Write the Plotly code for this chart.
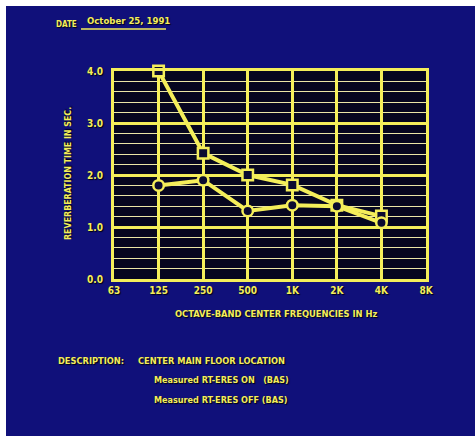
import plotly.graph_objects as go

categories = ["63", "125", "250", "500", "1K", "2K", "4K", "8K"]
freqs = ["125", "250", "500", "1K", "2K", "4K"]
rt_on = [4.0, 2.42, 2.0, 1.81, 1.42, 1.21]
rt_off = [1.8, 1.9, 1.31, 1.42, 1.4, 1.08]
y_ticks = [0.0, 1.0, 2.0, 3.0, 4.0]
y_ticklabels = ["0.0", "1.0", "2.0", "3.0", "4.0"]

YEL = "#f4ee5a"
NAVY = "#10107a"
FONT = "Liberation Sans Narrow, DejaVu Sans Condensed, Liberation Sans, Arial"
SHADOW = "1px 1px 1px #000010"

W, H = 475, 436
L, T = 114, 71
R, B = W - 426, H - 279
pw, ph = W - L - R, H - T - B


def px_x(p):
    return (p - L) / pw


def px_y(p):
    return (H - B - p) / ph


fig = go.Figure()
fig.add_trace(go.Scatter(
    x=freqs, y=rt_on, mode="lines+markers", name="Measured RT-ERES ON (BAS)",
    line=dict(color=YEL, width=4),
    marker=dict(symbol="square", size=10.5, color="#0a0a30", line=dict(color=YEL, width=2.5)),
    cliponaxis=False,
))
fig.add_trace(go.Scatter(
    x=freqs, y=rt_off, mode="lines+markers", name="Measured RT-ERES OFF (BAS)",
    line=dict(color=YEL, width=4),
    marker=dict(symbol="circle", size=10.5, color="#0a0a30", line=dict(color=YEL, width=2.5)),
    cliponaxis=False,
))

shapes = [
    dict(type="rect", xref="paper", yref="paper", x0=px_x(-2), x1=px_x(W + 2), y0=px_y(6), y1=px_y(-2),
         fillcolor="white", line=dict(width=0), layer="below"),
    dict(type="rect", xref="paper", yref="paper", x0=px_x(-2), x1=px_x(6), y0=px_y(H + 2), y1=px_y(-2),
         fillcolor="white", line=dict(width=0), layer="below"),
    dict(type="line", xref="paper", yref="paper", x0=px_x(81), x1=px_x(166), y0=px_y(29), y1=px_y(29),
         line=dict(color=YEL, width=1.5)),
]


def txt(x, y, s, size=9, anchor="left"):
    return dict(text=s, xref="paper", yref="paper", x=px_x(x), y=px_y(y), xanchor=anchor, yanchor="middle",
                showarrow=False, font=dict(family=FONT, size=size, color=YEL, weight="bold", shadow=SHADOW))


annotations = [
    txt(54, 25, "DATE", 8),
    txt(85, 21, "October 25, 1991", 9.5),
    txt(276, 313, "OCTAVE-BAND CENTER FREQUENCIES IN Hz", 9.3, "center"),
    txt(56, 360, "DESCRIPTION:", 9.2),
    txt(136, 360, "CENTER MAIN FLOOR LOCATION", 9.2),
    txt(152, 380, "Measured RT-ERES ON \u00a0\u00a0(BAS)", 9),
    txt(152, 400, "Measured RT-ERES OFF (BAS)", 9),
    dict(text="REVERBERATION TIME IN SEC.", xref="paper", yref="paper", x=px_x(68), y=px_y(174),
         xanchor="center", yanchor="middle", textangle=-90, showarrow=False,
         font=dict(family=FONT, size=8.8, color=YEL, weight="bold", shadow=SHADOW)),
]

# legend marker glyphs
fig.add_trace(go.Scatter(
    x=[px_x(143)], y=[px_y(380)], xaxis="x2", yaxis="y2", mode="markers", showlegend=False,
    marker=dict(symbol="square", size=8, color="#0a0a30", line=dict(color=YEL, width=2.5)),
    cliponaxis=False, hoverinfo="skip"))
fig.add_trace(go.Scatter(
    x=[px_x(143)], y=[px_y(400)], xaxis="x2", yaxis="y2", mode="markers", showlegend=False,
    marker=dict(symbol="circle", size=9, color="#0a0a30", line=dict(color=YEL, width=2.5)),
    cliponaxis=False, hoverinfo="skip"))

fig.update_layout(
    width=W, height=H,
    margin=dict(l=L, r=R, t=T, b=B),
    paper_bgcolor=NAVY,
    plot_bgcolor="#06061f",
    showlegend=False,
    shapes=shapes,
    annotations=annotations,
    xaxis=dict(
        type="category", categoryorder="array", categoryarray=categories,
        range=[0, 7], showgrid=True, gridcolor=YEL, gridwidth=2.5,
        showline=True, linecolor=YEL, linewidth=3, mirror=True,
        ticks="", ticklen=0, zeroline=False,
        tickfont=dict(family=FONT, size=10, color=YEL, weight="bold", shadow=SHADOW),
    ),
    yaxis=dict(
        range=[0, 4], tickvals=y_ticks, ticktext=y_ticklabels,
        showgrid=True, gridcolor=YEL, gridwidth=2.5,
        minor=dict(dtick=0.2, showgrid=True, gridcolor="#ebe6a6", gridwidth=1.3),
        showline=True, linecolor=YEL, linewidth=3, mirror=True, zeroline=False,
        ticks="", ticklabelstandoff=6,
        tickfont=dict(family=FONT, size=10, color=YEL, weight="bold", shadow=SHADOW),
    ),
    xaxis2=dict(range=[0, 1], domain=[0, 1], visible=False, overlaying="x"),
    yaxis2=dict(range=[0, 1], domain=[0, 1], visible=False, overlaying="y"),
)

fig.write_html(
    "out.html",
    config={"displayModeBar": False},
    post_script=("document.body.style.margin='0';document.body.style.overflow='hidden';"
                 "document.body.style.background='#10107a';"
                 "document.documentElement.style.background='#10107a';"),
)
